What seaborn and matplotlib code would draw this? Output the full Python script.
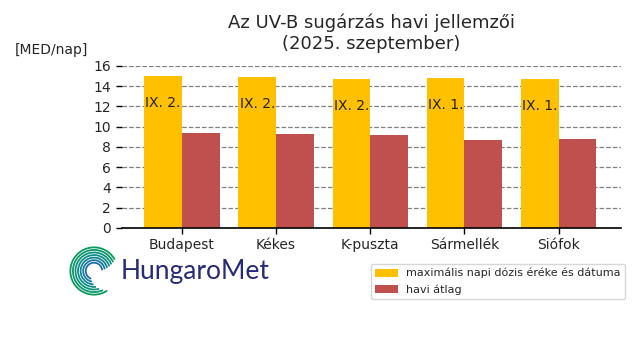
import numpy as np
import pandas as pd
import matplotlib
matplotlib.use("Agg")
import matplotlib.pyplot as plt
import seaborn as sns
from matplotlib.patches import Arc

stations = ["Budapest", "Kékes", "K-puszta", "Sármellék", "Siófok"]
max_dose = [15.0, 14.9, 14.7, 14.8, 14.7]
max_date = ["IX. 2.", "IX. 2.", "IX. 2.", "IX. 1.", "IX. 1."]
monthly_avg = [9.4, 9.3, 9.2, 8.7, 8.8]
series_names = ["maximális napi dózis éréke és dátuma", "havi átlag"]
yticks = [0, 2, 4, 6, 8, 10, 12, 14, 16]

df = pd.DataFrame({
    "station": stations * 2,
    "value": max_dose + monthly_avg,
    "series": [series_names[0]] * 5 + [series_names[1]] * 5,
})

sns.set_style("white")
plt.rcParams["font.family"] = ["DejaVu Sans"]

fig = plt.figure(figsize=(6.4, 3.6), dpi=100)
ax = fig.add_axes([0.19, 0.367, 0.78, 0.45])

sns.barplot(data=df, x="station", y="value", hue="series",
            palette=["#FFC000", "#C0504D"], saturation=1, width=0.8,
            gap=0, linewidth=0, ax=ax, legend=True)

# date labels on the yellow bars
yellow = ax.patches[:5]
for bar, val, lab in zip(yellow, max_dose, max_date):
    ax.text(bar.get_x() + bar.get_width() / 2, val * 0.82, lab,
            ha="center", va="center", fontsize=10, color="#222222")

ax.set_xlim(-0.64, 4.66)
ax.set_ylim(0, 16)
ax.set_yticks(yticks)
ax.yaxis.grid(True, linestyle="--", color="gray", linewidth=0.9)
ax.set_axisbelow(True)
ax.tick_params(axis="both", which="both", length=4, width=1, color="black",
               left=True, bottom=True, labelsize=10)
ax.set_xlabel("")
ax.set_ylabel("")
for s in ["left", "right", "top"]:
    ax.spines[s].set_visible(False)
ax.spines["bottom"].set_color("black")
ax.spines["bottom"].set_linewidth(1.2)
ax.set_title("Az UV-B sugárzás havi jellemzői\n(2025. szeptember)",
             fontsize=13, pad=12)
fig.text(15 / 640, 1 - 50 / 360, "[MED/nap]", fontsize=10, va="center")

handles, labels = ax.get_legend_handles_labels()
ax.get_legend().remove()
fig.legend(handles, labels, loc="upper right", fontsize=8,
           bbox_to_anchor=(631 / 640, 1 - 258 / 360), frameon=True,
           fancybox=True, edgecolor="#cccccc")

# HungaroMet logo (approximation)
lax = fig.add_axes([68 / 640, 1 - 298 / 360, 52 / 640, 54 / 360])
lax.set_xlim(-1.1, 1.1)
lax.set_ylim(-1.1, 1.1)
lax.set_aspect("equal")
lax.axis("off")
radii = np.linspace(0.35, 1.0, 7)
cols = sns.blend_palette(["#1f6fae", "#0f8f8a", "#0a9a5c"], 7)
for i, (r, c) in enumerate(zip(radii, cols)):
    lax.add_patch(Arc((0, 0), 2 * r, 2 * r, theta1=5 + i * 4,
                      theta2=250 + i * 9, color=c, lw=1.3))
fig.text(121 / 640, 1 - 271 / 360, "HungaroMet", fontsize=19,
         color="#262a78", va="center", family="Lato")

fig.savefig("out.png", dpi=100)
